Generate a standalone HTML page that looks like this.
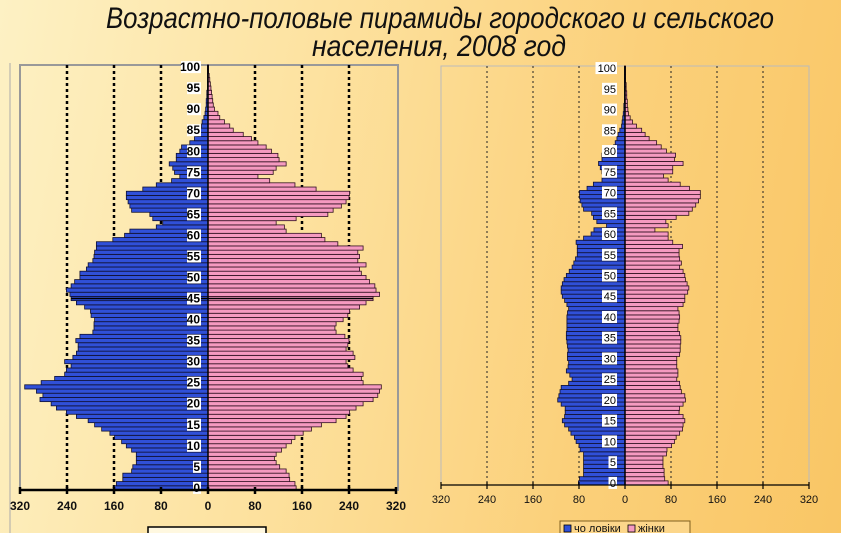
<!DOCTYPE html>
<html><head><meta charset="utf-8"><style>
html,body{margin:0;padding:0}
body{width:841px;height:533px;overflow:hidden;background:linear-gradient(100deg,#fdf1c4 0%,#fde2a0 35%,#fbd07a 70%,#f9c665 100%);}
svg{display:block}
</style></head><body>
<svg id="s" width="841" height="533" xmlns="http://www.w3.org/2000/svg" font-family="Liberation Sans, sans-serif">
<text x="440" y="28" font-size="30" font-style="italic" fill="#111" text-anchor="middle" textLength="668" lengthAdjust="spacingAndGlyphs">Возрастно-половые пирамиды городского и сельского</text>
<text x="439" y="56" font-size="30" font-style="italic" fill="#111" text-anchor="middle" textLength="254" lengthAdjust="spacingAndGlyphs">населения, 2008 год</text>
<line x1="10" y1="63" x2="10" y2="533" stroke="#aaa" stroke-width="1"/>
<rect x="20" y="65" width="378" height="425" fill="none" stroke="#999" stroke-width="2"/>
<rect x="441" y="66" width="368" height="419" fill="none" stroke="#bbb" stroke-width="1"/>
<g id="L"></g><g id="R"></g>
<rect x="148" y="527" width="118" height="10" fill="#fff8e0" stroke="#000" stroke-width="1.5"/>
<rect x="560" y="521" width="130" height="14" fill="#fcd68a" stroke="#806020" stroke-width="1"/>
<rect x="564" y="525" width="7" height="7" fill="#3050d8" stroke="#000" stroke-width="0.8"/>
<text x="574" y="532" font-size="11" fill="#111">чо ловіки</text>
<rect x="628" y="525" width="7" height="7" fill="#f59ac0" stroke="#000" stroke-width="0.8"/>
<text x="638" y="532" font-size="11" fill="#111">жінки</text>
</svg>
<script>
var LM=[159,156,145,145,130,128,122,122,122,130,139,147,159,167,181,193,204,224,241,258,267,286,281,292,312,284,261,244,241,233,244,230,224,221,221,225,218,196,194,194,193,199,200,210,224,233,235,241,233,227,218,218,207,204,196,194,193,190,190,162,142,133,88,77,94,99,130,133,136,139,139,111,88,62,48,57,60,66,54,54,48,45,31,23,17,14,11,10,7,5,4,3,3,2,2,1,1,1,1,1,1];
var LF=[150,148,139,138,133,122,116,113,116,125,133,142,148,162,176,193,218,235,241,252,264,281,289,292,295,264,261,264,247,238,235,250,247,235,238,240,233,218,216,218,230,238,241,258,269,281,292,286,284,275,269,261,258,269,255,258,255,264,221,199,193,133,130,116,150,204,213,227,235,240,241,184,148,105,85,111,116,133,121,119,108,99,85,74,60,43,37,28,20,17,11,9,8,7,6,5,4,3,2,1,1];
var RM=[81,79,72,72,72,72,72,72,78,80,85,88,94,98,105,109,105,104,104,111,117,115,113,111,98,92,96,102,99,98,100,100,99,100,101,102,102,101,101,101,101,100,98,101,105,109,111,111,109,106,102,97,92,89,86,83,83,83,85,72,59,54,32,49,55,58,72,75,78,79,79,66,55,40,39,40,43,46,40,40,32,20,17,14,12,9,6,5,4,3,2,2,1,1,1,1,1,1,1,1,1];
var RF=[75,69,68,68,66,66,66,72,73,81,86,89,95,100,101,104,101,94,95,101,105,104,98,96,95,90,92,92,90,90,90,95,96,96,97,97,95,92,92,94,95,94,92,101,104,104,109,111,108,105,104,101,95,98,95,94,94,100,83,75,75,52,75,71,89,111,117,123,128,131,131,112,96,75,67,83,83,101,86,88,72,63,55,42,35,29,20,13,9,6,5,4,4,3,3,2,2,1,1,1,1];
var NS="http://www.w3.org/2000/svg";
function el(p,t,a,txt){var e=document.createElementNS(NS,t);for(var k in a)e.setAttribute(k,a[k]);if(txt!=null)e.textContent=txt;p.appendChild(e);return e;}
function draw(g,M,F,o){
  [-240,-160,-80,80,160,240].forEach(function(v){
    el(g,'line',{x1:o.cx+v*o.s,x2:o.cx+v*o.s,y1:o.top,y2:o.bot,stroke:o.gridC,'stroke-width':o.gridW,'stroke-dasharray':o.dash});
  });
  var h=(o.bot-o.top)/101;
  for(var a=0;a<=100;a++){
    var y=o.bot-(a+1)*h;
    el(g,'rect',{x:o.cx-M[a]*o.s,y:y,width:M[a]*o.s,height:h,fill:'#3050d8',stroke:'#101030','stroke-width':0.8});
    el(g,'rect',{x:o.cx,y:y,width:F[a]*o.s,height:h,fill:'#f59ac0',stroke:'#301020','stroke-width':0.8});
  }
  el(g,'line',{x1:o.cx,x2:o.cx,y1:o.top,y2:o.bot,stroke:'#000','stroke-width':1.5});
  if(o.mid45){var y45=o.bot-45.5*h;el(g,'line',{x1:o.cx-M[45]*o.s,x2:o.cx+F[45]*o.s,y1:y45,y2:y45,stroke:'#000','stroke-width':1.5});}
  for(var a=0;a<=100;a+=5){
    var yc=o.bot-(a+0.5)*h;
    var t=String(a);var w=t.length*o.cw+2;
    el(g,'rect',{x:o.lx-w,y:yc-6,width:w,height:12,fill:'#fff'});
    el(g,'text',{x:o.lx-1,y:yc+4,'font-size':o.fs,'font-weight':o.fw,'text-anchor':'end',fill:'#000','font-family':o.ff},t);
  }
  el(g,'line',{x1:o.cx-320*o.s,x2:o.cx+320*o.s,y1:o.bot,y2:o.bot,stroke:'#000','stroke-width':o.axW});
  [-320,-240,-160,-80,0,80,160,240,320].forEach(function(v){
    var x=o.cx+v*o.s;
    el(g,'line',{x1:x,x2:x,y1:o.bot-3,y2:o.bot+4,stroke:'#000','stroke-width':o.axW});
    el(g,'text',{x:x,y:o.ty,'font-size':o.tfs,'font-weight':o.fw,'text-anchor':'middle',fill:'#111','font-family':o.ff},String(Math.abs(v)));
  });
}
draw(document.getElementById('L'),LM,LF,{cx:208,s:188/320,top:65,bot:490,gridC:'#000',gridW:2.5,dash:'3,3',mid45:true,lx:201,cw:6,fs:12,fw:'bold',ff:'Liberation Sans Narrow, Liberation Sans, sans-serif',axW:2.5,ty:510,tfs:12});
draw(document.getElementById('R'),RM,RF,{cx:625,s:184/320,top:66,bot:485,gridC:'#222',gridW:1,dash:'2,3',mid45:false,lx:617,cw:6.5,fs:11,fw:'normal',ff:'Liberation Sans, sans-serif',axW:1.2,ty:503,tfs:11});
</script>
</body></html>
